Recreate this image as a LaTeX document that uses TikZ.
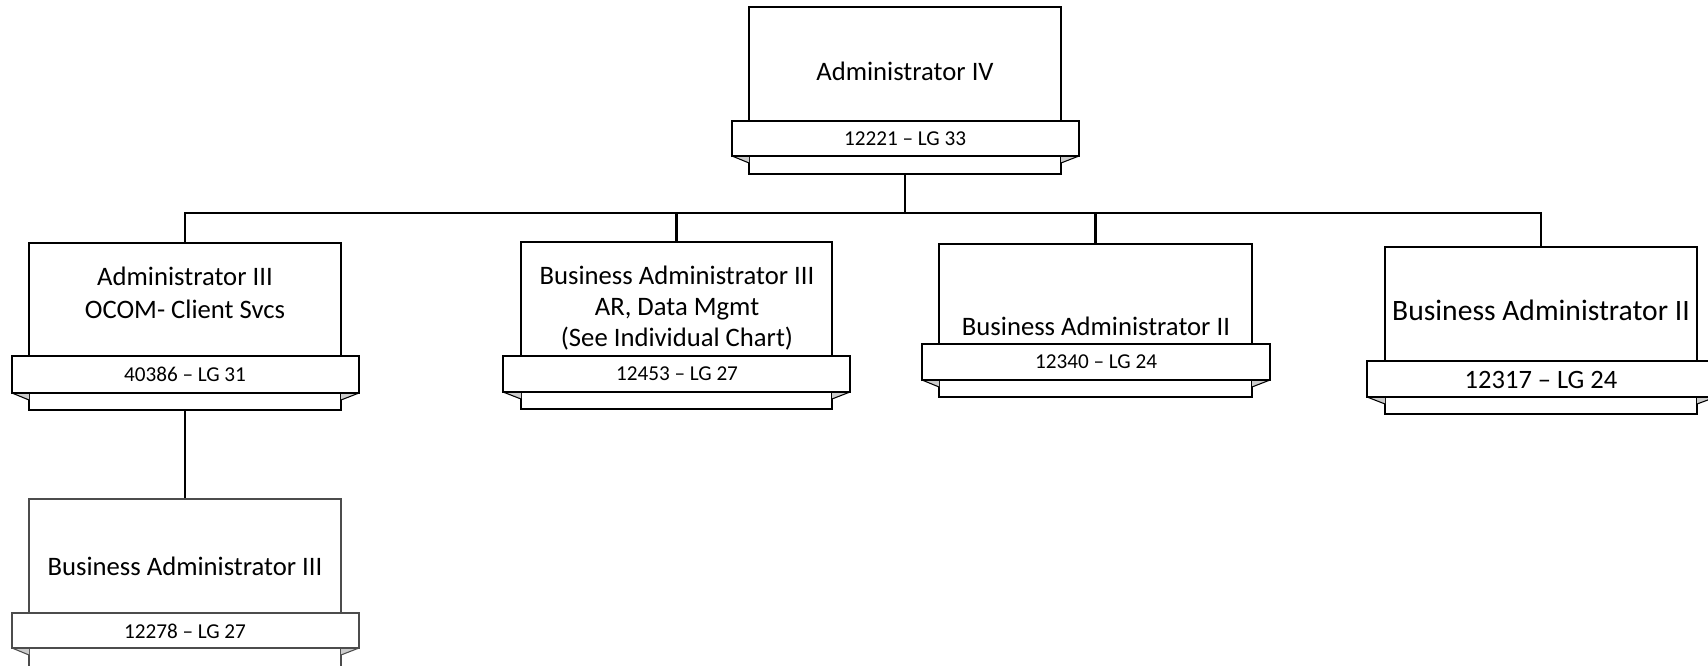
\documentclass[tikz,border=0pt]{standalone}
\usepackage{fontspec}
\setmainfont{Carlito}
\usetikzlibrary{fit,backgrounds}
\tikzset{
  frame/.style={draw=black, line width=1.1pt, fill=white, inner sep=0pt},
  foldfill/.style={fill=gray!40},
  foldline/.style={draw=black, line width=0.8pt},
  conn/.style={draw=black, line width=1.9pt, line cap=rect},
  titletext/.style={font=\fontsize{20}{24.75}\selectfont, align=center, inner sep=0pt},
  codetext/.style={font=\fontsize{15.9}{19}\selectfont, inner sep=0pt},
}
% #1 name, #2 L, #3 R, #4 T, #5 B, #6 ribbon L, #7 ribbon R, #8 ribbon T, #9 ribbon B
\newcommand{\orgunit}[9]{%
  \node[frame, fit={(#2,#4) (#3,#5)}] (#1) {};
  \fill[foldfill] (#6,#9) -- (#2,#9) -- (#2,#9+7) -- cycle;
  \fill[foldfill] (#7,#9) -- (#3,#9) -- (#3,#9+7) -- cycle;
  \draw[foldline] (#6,#9) -- (#2,#9+7);
  \draw[foldline] (#7,#9) -- (#3,#9+7);
  \node[frame, fit={(#6,#8) (#7,#9)}] (#1r) {};
}
\begin{document}
\begin{tikzpicture}[x=0.75pt, y=-0.75pt]
\useasboundingbox (0,0) rectangle (1708,666);

% top
\orgunit{b1}{749}{1061}{7}{174}{732}{1079}{121}{156}
\node[titletext] (t1) at (905,71) {Administrator IV};
\node[codetext] (c1) at (905,139) {12221 – LG 33};

% Administrator III
\orgunit{b0}{29}{341}{243}{410}{12}{359}{356}{393}
\node[titletext] (t0) at (185,293) {Administrator III\\OCOM- Client Svcs};
\node[codetext] (c0) at (185,374) {40386 – LG 31};

% Business Administrator III (AR)
\orgunit{b2}{521}{832}{242}{409}{503}{850}{356}{392}
\node[titletext, font=\fontsize{20}{23.3}\selectfont] (t2) at (677,308) {Business Administrator III\\AR, Data Mgmt\\(See Individual Chart)};
\node[codetext] (c2) at (677,374) {12453 – LG 27};

% Business Administrator II (12340)
\orgunit{b3}{939}{1252}{244}{397}{922}{1270}{344}{380}
\node[titletext] (t3) at (1096,326) {Business Administrator II};
\node[codetext] (c3) at (1096,362) {12340 – LG 24};

% Business Administrator II (12317)
\orgunit{b4}{1385}{1697}{247}{414}{1367}{1716}{361}{397}
\node[titletext, font=\fontsize{22.2}{26}\selectfont] (t4) at (1541,310) {Business Administrator II};
\node[codetext, font=\fontsize{19.9}{24}\selectfont] (c4) at (1541,380) {12317 – LG 24};

% lower Business Administrator III
\begin{scope}[frame/.append style={draw=black!70, line width=0.8pt}, foldline/.append style={draw=black!70}]
\orgunit{b5}{29}{341}{499}{669}{12}{359}{613}{648}
\end{scope}
\node[titletext] (t5) at (185,566) {Business Administrator III};
\node[codetext] (c5) at (185,631) {12278 – LG 27};

% connectors, behind the boxes
\begin{scope}[on background layer]
\coordinate (bus) at (905,213);
\draw[conn] (b1.south) -- (bus);
\draw[conn] (b0.north) |- (bus) -| (b4.north);
\draw[conn] (b2.north) -- (b2.north |- bus);
\draw[conn] (b3.north) -- (b3.north |- bus);
\draw[conn] (b0.south) -- (b5.north);
\end{scope}
\end{tikzpicture}
\end{document}
